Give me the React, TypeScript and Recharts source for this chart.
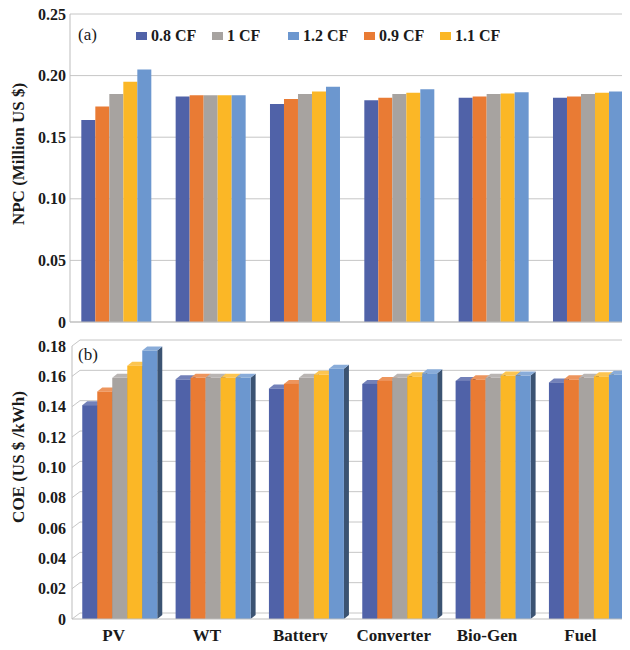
import React from "react";
import { BarChart, Bar, XAxis, YAxis, CartesianGrid, Legend } from "recharts";

const categories = ["PV", "WT", "Battery", "Converter", "Bio-Gen", "Fuel"];

// NPC (Million US $)
const npc08 = [0.164, 0.183, 0.177, 0.18, 0.182, 0.182];
const npc09 = [0.175, 0.184, 0.181, 0.182, 0.183, 0.183];
const npc10 = [0.185, 0.184, 0.185, 0.185, 0.185, 0.185];
const npc11 = [0.195, 0.184, 0.187, 0.186, 0.1855, 0.186];
const npc12 = [0.205, 0.184, 0.191, 0.189, 0.1865, 0.187];

// COE (US $/kWh)
const coe08 = [0.141, 0.158, 0.152, 0.155, 0.157, 0.156];
const coe09 = [0.15, 0.159, 0.155, 0.157, 0.158, 0.158];
const coe10 = [0.159, 0.159, 0.159, 0.159, 0.159, 0.159];
const coe11 = [0.167, 0.159, 0.161, 0.16, 0.1605, 0.16];
const coe12 = [0.177, 0.159, 0.165, 0.162, 0.1605, 0.161];

const npcTicks = [0, 0.05, 0.1, 0.15, 0.2, 0.25];
const coeTicks = [0, 0.02, 0.04, 0.06, 0.08, 0.1, 0.12, 0.14, 0.16, 0.18];

const SERIES = [
  { key: "cf08", name: "0.8 CF", color: "#5062a8" },
  { key: "cf09", name: "0.9 CF", color: "#e97b34" },
  { key: "cf10", name: "1 CF", color: "#a7a3a0" },
  { key: "cf11", name: "1.1 CF", color: "#fbb726" },
  { key: "cf12", name: "1.2 CF", color: "#6c97cf" },
];
const LEGEND_ORDER = ["cf08", "cf10", "cf12", "cf09", "cf11"];

const npcData = categories.map((c, i) => ({
  name: c,
  cf08: npc08[i],
  cf09: npc09[i],
  cf10: npc10[i],
  cf11: npc11[i],
  cf12: npc12[i],
}));

const coeData = categories.map((c, i) => ({
  name: c,
  cf08: coe08[i],
  cf09: coe09[i],
  cf10: coe10[i],
  cf11: coe11[i],
  cf12: coe12[i],
}));

const FONT = "'Liberation Serif', 'Times New Roman', serif";
const GRID = "#c6c6c6";
const INK = "#1a1a1a";

const fmt = (v: number) => (v === 0 ? "0" : v.toFixed(2));

function shade(hex: string, amt: number) {
  const n = parseInt(hex.slice(1), 16);
  const ch = [(n >> 16) & 255, (n >> 8) & 255, n & 255].map((c) =>
    Math.round(amt >= 0 ? c + (255 - c) * amt : c * (1 + amt))
  );
  return "rgb(" + ch.join(",") + ")";
}

const DX = 5;
const DY = 4;

function Bar3D(props: any) {
  const { x, y, width, height, fill } = props;
  if (!height || height <= 0) return null;
  const top = `${x},${y} ${x + DX},${y - DY} ${x + width + DX},${y - DY} ${x + width},${y}`;
  const side = `${x + width},${y} ${x + width + DX},${y - DY} ${x + width + DX},${y + height - DY} ${x + width},${y + height}`;
  return (
    <g>
      <polygon points={side} fill={shade(fill, -0.45)} />
      <polygon points={top} fill={shade(fill, 0.2)} />
      <rect x={x} y={y} width={width} height={height} fill={fill} />
    </g>
  );
}

function backGrid(p: any) {
  const { x1, x2, y1, index } = p;
  const pts = `${x1},${y1} ${x1 + 8},${y1 - 6} ${x2 + 8},${y1 - 6}`;
  return <polyline key={"g" + index} points={pts} fill="none" stroke={GRID} strokeWidth={1} />;
}

const renderLegend = () => (
  <div style={{ display: "flex", fontFamily: FONT, fontWeight: "bold", fontSize: 16, color: INK }}>
    {LEGEND_ORDER.map((k) => {
      const s = SERIES.find((d) => d.key === k)!;
      return (
        <div key={k} style={{ width: 76, display: "flex", alignItems: "center" }}>
          <span style={{ display: "inline-block", width: 11, height: 8, background: s.color, marginRight: 4 }} />
          {s.name}
        </div>
      );
    })}
  </div>
);

const YTitle = ({ text, cy }: { text: string; cy: number }) => (
  <text
    x={18}
    y={cy}
    transform={`rotate(-90 18 ${cy})`}
    textAnchor="middle"
    dominantBaseline="central"
    fontFamily={FONT}
    fontWeight="bold"
    fontSize={17}
    fill={INK}
  >
    {text}
  </text>
);

const PanelTag = ({ text, x, y }: { text: string; x: number; y: number }) => (
  <text x={x} y={y} fontFamily={FONT} fontSize={17} fill={INK} dominantBaseline="central">
    {text}
  </text>
);

const CatTick = (props: any) => {
  const { x, y, payload } = props;
  return (
    <text x={x - 5} y={y} dy={22} textAnchor="middle" fontFamily={FONT} fontWeight="bold" fontSize={17} fill={INK}>
      {payload.value}
    </text>
  );
};

const ValTick = (props: any) => {
  const { x, y, payload } = props;
  return (
    <text x={x} y={y} textAnchor="end" dominantBaseline="central" fontFamily={FONT} fontWeight="bold" fontSize={16} fill={INK}>
      {fmt(payload.value)}
    </text>
  );
};

export default function App() {
  return (
    <div style={{ position: "relative", margin: -8, width: 630, height: 650, overflow: "hidden", background: "#fff" }}>
      <div style={{ position: "absolute", left: 0, top: 0 }}>
        <BarChart
          width={640}
          height={330}
          data={npcData}
          margin={{ top: 14, right: 4, bottom: 0, left: 0 }}
          barCategoryGap="12%"
          barGap={0}
        >
          <CartesianGrid vertical={false} stroke={GRID} />
          <XAxis dataKey="name" height={8} tick={false} tickLine={false} axisLine={{ stroke: "#bdbdbd" }} />
          <YAxis
            width={70}
            domain={[0, 0.25]}
            ticks={npcTicks}
            interval={0}
            tick={<ValTick />}
            tickLine={false}
            tickSize={0}
            tickMargin={4}
            axisLine={{ stroke: "#bdbdbd" }}
            label={<YTitle text="NPC (Million US $)" cy={154} />}
          />
          <Legend
            layout="horizontal"
            verticalAlign="middle"
            align="center"
            content={renderLegend}
            wrapperStyle={{ top: 27, left: 136, width: "auto", height: "auto" }}
          />
          {SERIES.map((s) => (
            <Bar key={s.key} dataKey={s.key} name={s.name} fill={s.color} isAnimationActive={false} />
          ))}
          <PanelTag text="(a)" x={78} y={34} />
        </BarChart>
      </div>
      <div style={{ position: "absolute", left: 0, top: 330 }}>
        <BarChart
          width={636}
          height={320}
          data={coeData}
          margin={{ top: 16, right: 4, bottom: 0, left: 0 }}
          barCategoryGap="11%"
          barGap={0}
        >
          <CartesianGrid vertical={false} horizontal={backGrid} />
          <XAxis
            dataKey="name"
            height={31}
            tick={<CatTick />}
            tickLine={false}
            tickSize={0}
            tickMargin={0}
            interval={0}
            axisLine={{ stroke: "#bdbdbd" }}
          />
          <YAxis
            width={72}
            domain={[0, 0.18]}
            ticks={coeTicks}
            interval={0}
            tick={<ValTick />}
            tickLine={false}
            tickSize={0}
            tickMargin={6}
            axisLine={{ stroke: "#bdbdbd" }}
            label={<YTitle text="COE (US $ /kWh)" cy={127} />}
          />
          {SERIES.map((s) => (
            <Bar key={s.key} dataKey={s.key} name={s.name} fill={s.color} shape={<Bar3D />} isAnimationActive={false} />
          ))}
          <PanelTag text="(b)" x={78} y={24} />
        </BarChart>
      </div>
    </div>
  );
}
